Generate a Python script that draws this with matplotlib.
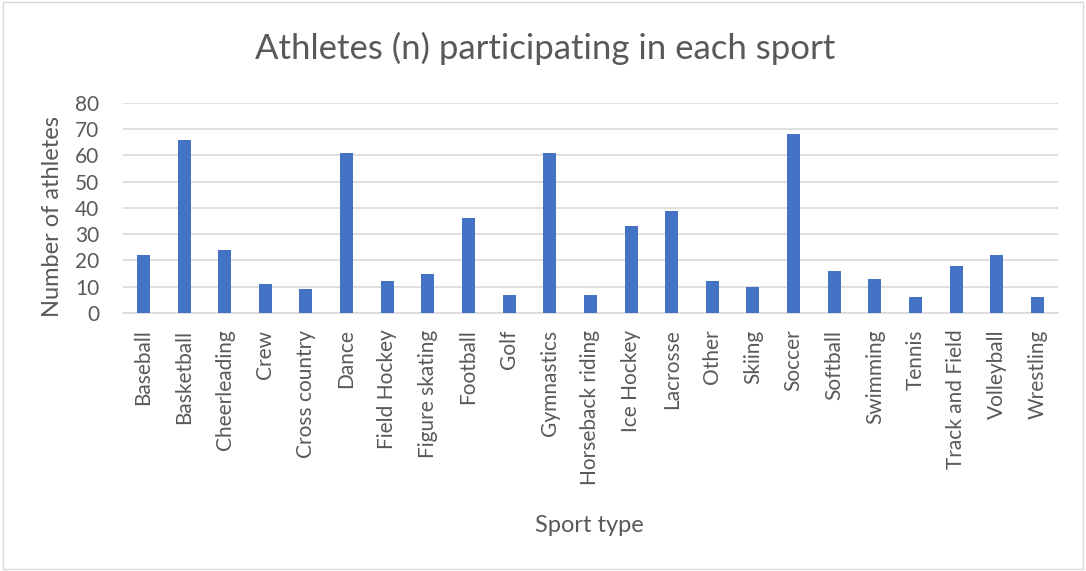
import matplotlib.pyplot as plt
from matplotlib.patches import Rectangle

sports = [
    "Baseball", "Basketball", "Cheerleading", "Crew", "Cross country", "Dance",
    "Field Hockey", "Figure skating", "Football", "Golf", "Gymnastics",
    "Horseback riding", "Ice Hockey", "Lacrosse", "Other", "Skiing", "Soccer",
    "Softball", "Swimming", "Tennis", "Track and Field", "Volleyball", "Wrestling",
]
athletes = [22, 66, 24, 11, 9, 61, 12, 15, 36, 7, 61, 7, 33, 39, 12, 10, 68, 16, 13, 6, 18, 22, 6]
y_ticks = [0, 10, 20, 30, 40, 50, 60, 70, 80]

text_color = "#595959"
plt.rcParams["font.family"] = ["Lato", "DejaVu Sans"]

fig = plt.figure(figsize=(10.86, 5.71), dpi=100)
fig.patches.append(
    Rectangle((0.003, 0.003), 0.994, 0.994, transform=fig.transFigure,
              fill=False, edgecolor="#D9D9D9", linewidth=1)
)
ax = fig.add_axes([0.1133, 0.452, 0.8607, 0.3676])

x = range(len(sports))
ax.bar(x, athletes, width=0.32, color="#4472C4", zorder=3)

ax.set_xlim(-0.5, len(sports) - 0.5)
ax.set_ylim(0, 80)
ax.set_yticks(y_ticks)
ax.set_xticks(list(x))
ax.set_xticklabels(sports, rotation=90)
ax.tick_params(axis="both", length=0, colors=text_color)
ax.tick_params(axis="x", labelsize=15, pad=12)
ax.tick_params(axis="y", labelsize=15, pad=17)
ax.grid(axis="y", color="#D9D9D9", linewidth=1.2, zorder=0)
for side in ["top", "right", "left"]:
    ax.spines[side].set_visible(False)
ax.spines["bottom"].set_color("#D9D9D9")
ax.spines["bottom"].set_linewidth(1.2)

ax.set_ylabel("Number of athletes", fontsize=17, color=text_color)
ax.yaxis.set_label_coords(-0.064, 0.457)
fig.text(0.543, 0.08, "Sport type", ha="center", va="center",
         fontsize=17, color=text_color)
fig.text(0.502, 0.916, "Athletes (n) participating in each sport", ha="center",
         va="center", fontsize=25, color=text_color)

fig.savefig("out.png", dpi=100)
